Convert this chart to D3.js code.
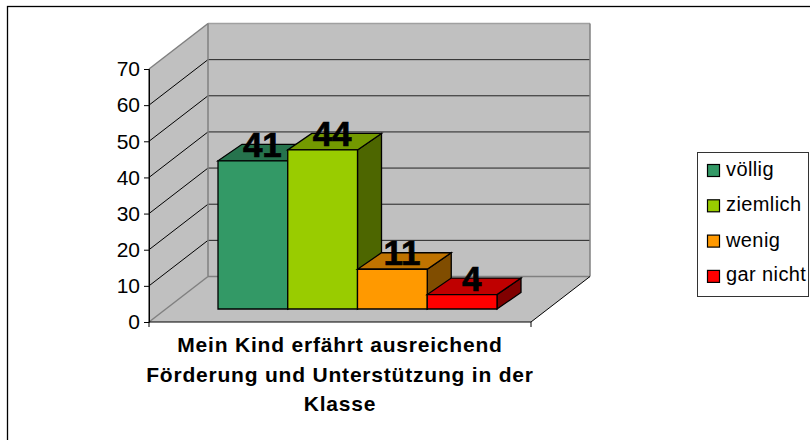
<!DOCTYPE html>
<html><head><meta charset="utf-8">
<script src="https://cdn.jsdelivr.net/npm/d3@7"></script>
<style>html,body{margin:0;padding:0;background:#fff;overflow:hidden}svg{display:block}text{font-family:"Liberation Sans",Arial,sans-serif;fill:#000}</style>
</head><body><svg id="c" width="810" height="440"></svg>
<script>
const categories = ["völlig","ziemlich","wenig","gar nicht"];
const values = [41,44,11,4];
const yTicks = [0,10,20,30,40,50,60,70];
const frontColors = ["#339966","#99cc00","#ff9900","#ff0000"];
const topColors = ["#26734d","#739900","#bf7300","#bf0000"];
const sideColors = ["#1a4d33","#4d6600","#804d00","#800000"];
const titleLines = ["Mein Kind erfährt ausreichend","Förderung und Unterstützung in der","Klasse"];

const svg = d3.select("#c");
const x0=149,x1=531,y0=322,y1=69,depthX=59,depthY=-45.5;
const y = d3.scaleLinear().domain([0,70]).range([y0,y1]);
const x = d3.scaleBand().domain(categories).range([x0+52,x0+331]).padding(0);
const barDX=17,barDY=-13,bdX=24,bdY=-16.5;
const poly=(pts,fill,stroke,sw)=>svg.append("polygon").attr("points",pts.map(p=>p.join(",")).join(" ")).attr("fill",fill).attr("stroke",stroke).attr("stroke-width",sw);

svg.append("rect").attr("x",7.5).attr("y",6.5).attr("width",820).attr("height",450).attr("fill","#fff").attr("stroke","#000").attr("stroke-width",1.3);
// walls
poly([[x0,y0],[x0+depthX,y0+depthY],[x0+depthX,y1+depthY],[x0,y1]],"#c0c0c0","none",0);
poly([[x0+depthX,y0+depthY],[x1+depthX,y0+depthY],[x1+depthX,y1+depthY],[x0+depthX,y1+depthY]],"#c0c0c0","none",0);
poly([[x0,y0],[x1,y0],[x1+depthX,y0+depthY],[x0+depthX,y0+depthY]],"#c0c0c0","none",0);
// gridlines
yTicks.forEach(t=>{
  const c=(t===0||t===70)?"#808080":"#000";
  svg.append("line").attr("x1",x0).attr("y1",y(t)).attr("x2",x0+depthX).attr("y2",y(t)+depthY).attr("stroke",c).attr("stroke-width",t===0||t===70?1.5:1);
  if(t>0) svg.append("line").attr("x1",x0+depthX).attr("y1",y(t)+depthY).attr("x2",x1+depthX).attr("y2",y(t)+depthY).attr("stroke",t===70?"#a0a0a0":"#222").attr("stroke-width",t===70?1.5:1);
});
svg.append("line").attr("x1",x0+depthX).attr("y1",y0+depthY).attr("x2",x1+depthX).attr("y2",y0+depthY).attr("stroke","#808080").attr("stroke-width",1.5);
svg.append("line").attr("x1",x0+depthX).attr("y1",y0+depthY).attr("x2",x0+depthX).attr("y2",y1+depthY).attr("stroke","#808080").attr("stroke-width",1.5);
svg.append("line").attr("x1",x1+depthX).attr("y1",y0+depthY).attr("x2",x1+depthX).attr("y2",y1+depthY).attr("stroke","#808080").attr("stroke-width",1.5);
svg.append("line").attr("x1",x1).attr("y1",y0).attr("x2",x1+depthX).attr("y2",y0+depthY).attr("stroke","#000");
svg.append("line").attr("x1",x0).attr("y1",y0).attr("x2",x0).attr("y2",y1).attr("stroke","#000");
// axes
const axisY=d3.axisLeft(y).tickValues(yTicks).tickSize(5).tickPadding(4).tickSizeOuter(0);
const gy=svg.append("g").attr("transform",`translate(${x0},0)`).call(axisY);
gy.select(".domain").attr("stroke","#000");
gy.selectAll("text").style("font-size","21px").attr("fill","#000");
svg.append("line").attr("x1",x0).attr("y1",y0).attr("x2",x1).attr("y2",y0).attr("stroke","#000").attr("stroke-width",1.2);
[x0,x1].forEach(v=>svg.append("line").attr("x1",v).attr("y1",y0).attr("x2",v).attr("y2",y0+5).attr("stroke","#000"));
// bars
const lab=[];
categories.forEach((c,i)=>{
  const l=x(c)+barDX,r=l+x.bandwidth(),b=y(0)+barDY,t=b-(y0-y(values[i]));
  poly([[r,b],[r+bdX,b+bdY],[r+bdX,t+bdY],[r,t]],sideColors[i],"#000",1.3);
  poly([[l,t],[r,t],[r+bdX,t+bdY],[l+bdX,t+bdY]],topColors[i],"#000",1.3);
  poly([[l,b],[r,b],[r,t],[l,t]],frontColors[i],"#000",1.3);
  lab.push({v:values[i],x:(l+r)/2+bdX/2-2.5,y:t+bdY+12.5});
});
lab.forEach(d=>svg.append("text").attr("x",d.x).attr("y",d.y).attr("text-anchor","middle").style("font-size","35px").style("font-weight","bold").style("stroke","#000").style("stroke-width","0.7px").text(d.v));
// title
titleLines.forEach((t,i)=>svg.append("text").attr("x",340).attr("y",352+i*29.5).attr("text-anchor","middle").style("font-size","21px").style("letter-spacing","0.8px").style("font-weight","bold").text(t));
// legend
svg.append("rect").attr("x",697.5).attr("y",152.5).attr("width",111).attr("height",144).attr("fill","#fff").attr("stroke","#333");
categories.forEach((c,i)=>{
  const yy=170.5+i*35.3;
  svg.append("rect").attr("x",707.5).attr("y",yy-6).attr("width",12).attr("height",12).attr("fill",frontColors[i]).attr("stroke","#000").attr("stroke-width",1.2);
  svg.append("text").attr("x",726).attr("y",yy+5.5+(i===3?-0.5:0)).style("font-size","20px").style("letter-spacing","0.4px").text(c);
});
</script></body></html>
